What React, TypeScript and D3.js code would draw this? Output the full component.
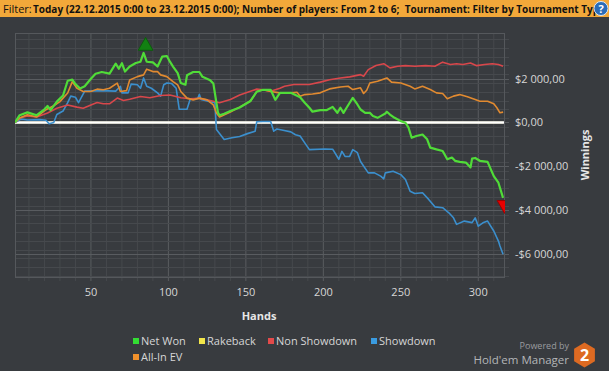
import * as React from 'react';
import {useEffect, useRef} from 'react';
import * as d3 from 'd3';

// [hand, winnings]
const netWon = [[1,0],[4,330],[9,460],[15,330],[20,600],[22,750],[24,560],[28,950],[32,1230],[35,1900],[38,1950],[40,1750],[43,1550],[46,1650],[50,1990],[53,2220],[57,2300],[62,2230],[66,2680],[68,2450],[70,2700],[72,2320],[75,2550],[79,2710],[82,2770],[84,3170],[86,2770],[90,2740],[93,2550],[96,3000],[99,3030],[101,2770],[103,2550],[106,2250],[108,1800],[111,1720],[112,2150],[116,2300],[120,2300],[122,2080],[127,1920],[129,1780],[131,900],[132,450],[133,330],[136,400],[140,520],[146,680],[153,980],[157,1400],[161,1490],[166,1490],[169,1030],[172,1350],[179,1350],[185,1150],[188,900],[191,670],[193,490],[198,560],[202,560],[206,710],[209,440],[211,670],[213,440],[215,670],[217,900],[219,1120],[222,820],[224,590],[227,440],[230,440],[232,290],[235,210],[237,290],[240,410],[241,490],[243,360],[246,210],[250,60],[253,-15],[255,-240],[257,-700],[260,-620],[264,-550],[267,-770],[269,-1150],[273,-1230],[277,-1300],[280,-1680],[283,-1600],[285,-1750],[288,-1800],[292,-1830],[295,-2050],[296,-1650],[298,-1620],[301,-1750],[306,-1800],[310,-2450],[313,-2750],[316,-3440]];
const rakeback = [[1,0],[316,0]];
const nonShowdown = [[1,0],[4,200],[9,300],[15,250],[22,430],[28,650],[35,800],[41,700],[45,650],[50,800],[54,910],[58,850],[62,850],[67,1110],[71,1000],[75,1060],[82,1180],[88,1130],[95,1230],[101,1250],[108,1130],[114,1080],[120,1100],[127,1000],[133,900],[140,1050],[146,1250],[153,1420],[157,1520],[161,1490],[166,1420],[172,1560],[175,1650],[181,1730],[185,1730],[191,1730],[198,1840],[204,1950],[211,2030],[217,2080],[224,2180],[226,2110],[229,2410],[234,2600],[239,2680],[243,2490],[248,2560],[253,2590],[259,2560],[266,2590],[272,2560],[277,2750],[282,2640],[286,2680],[290,2640],[295,2710],[299,2590],[304,2640],[309,2680],[313,2640],[316,2560]];
const showdown = [[1,0],[5,150],[9,110],[17,130],[21,100],[23,-60],[26,0],[28,360],[32,520],[35,900],[37,1200],[40,1150],[42,900],[46,1430],[56,1450],[66,1430],[69,1650],[70,1350],[74,1350],[76,1750],[80,1720],[82,1560],[84,2030],[86,1650],[89,1560],[93,1350],[95,1200],[97,1720],[99,1800],[102,1780],[105,1560],[107,600],[112,600],[114,1050],[119,1100],[120,1280],[121,1050],[127,950],[130,900],[131,-320],[136,-780],[141,-700],[146,-640],[151,-510],[156,-400],[157,30],[161,40],[166,40],[168,-400],[170,-300],[174,-360],[179,-430],[182,-560],[185,-620],[188,-930],[191,-1240],[201,-1210],[206,-1220],[210,-1680],[212,-1320],[214,-1550],[217,-1550],[219,-1240],[222,-1380],[224,-1780],[229,-2300],[233,-2300],[237,-2450],[239,-2570],[240,-2300],[245,-2230],[250,-2380],[253,-2600],[256,-3140],[259,-3240],[264,-3210],[268,-3510],[272,-3850],[277,-3890],[281,-4120],[284,-4350],[286,-4650],[291,-4500],[296,-4570],[298,-4350],[300,-4730],[303,-4580],[306,-4500],[310,-4950],[313,-5410],[314,-5640],[316,-6010]];
const allInEV = [[1,0],[4,200],[9,350],[15,250],[21,580],[26,760],[30,950],[35,1340],[38,1860],[41,1560],[45,1410],[50,1410],[54,1520],[58,1490],[62,1560],[67,1790],[69,1410],[73,1450],[75,1940],[80,2090],[84,2170],[86,2430],[90,2320],[93,2320],[95,2170],[99,2090],[103,1860],[106,1710],[108,1410],[112,1110],[116,1030],[120,1110],[125,1030],[129,800],[131,430],[133,250],[140,480],[146,700],[153,980],[157,1410],[161,1490],[166,1410],[172,1350],[179,1350],[183,1380],[185,1200],[188,1270],[193,1300],[198,1350],[204,1530],[211,1620],[216,1650],[219,1500],[224,1580],[226,1320],[228,1470],[230,1800],[235,1880],[241,2030],[244,1840],[250,1800],[256,1650],[259,1530],[264,1650],[269,1500],[273,1350],[277,1320],[280,1080],[284,1200],[288,1270],[293,1170],[298,1050],[301,970],[306,970],[310,850],[312,670],[314,440],[316,470]];

const seriesNames = ['Net Won', 'Rakeback', 'Non Showdown', 'Showdown', 'All-In EV'];
const seriesColors = ['#50dc38', '#eee24a', '#d8474b', '#3b8fcd', '#e18a30'];
const legendColors = ['#33dd33', '#f2e64a', '#e34a4a', '#3a9be0', '#f0912c'];

const xTicks = [50, 100, 150, 200, 250, 300];
const yTicks = [-6000, -4000, -2000, 0, 2000];

const filterText = 'Today (22.12.2015 0:00 to 23.12.2015 0:00); Number of players: From 2 to 6;\u00a0 Tournament: Filter by Tournament Type';

const fmtMoney = (v) => {
    const s = d3.format(',')(Math.abs(v)).replace(/,/g, ' ');
    return (v < 0 ? '-' : '') + '$' + s + ',00';
};

const App = () => {
    const chartRef = useRef();

    useEffect(() => {
        document.body.style.margin = '0';
        const svg = d3.select(chartRef.current);
        svg.selectAll('*').remove();

        const font = "'Open Sans', sans-serif";
        const left = 15, right = 504, top = 33, bottom = 277;

        const xScale = d3.scaleLinear().domain([1, 316.6]).range([left, right]);
        const yScale = d3.scaleLinear().domain([-7050, 4080]).range([bottom, top]);

        svg.append('rect').attr('width', 609).attr('height', 371).attr('fill', '#383b3f');

        // header bar
        svg.append('rect').attr('width', 609).attr('height', 17).attr('fill', '#f2a83a');
        svg.append('text').attr('x', 3).attr('y', 12.5)
            .style('font-family', font).style('font-size', '11px').attr('fill', '#111')
            .text('Filter:');
        svg.append('text').attr('x', 33).attr('y', 12.5)
            .style('font-family', font).style('font-size', '11px').style('font-weight', 'bold').attr('fill', '#111')
            .attr('textLength', 572).attr('lengthAdjust', 'spacingAndGlyphs')
            .text(filterText);
        svg.append('circle').attr('cx', 601).attr('cy', 8.5).attr('r', 7)
            .attr('fill', '#2a6cb8').attr('stroke', '#dfe8f2').attr('stroke-width', 1);
        svg.append('text').attr('x', 601).attr('y', 12.5).attr('text-anchor', 'middle')
            .style('font-family', font).style('font-size', '11px').style('font-weight', 'bold').attr('fill', '#fff')
            .text('?');

        // grid
        const grid = svg.append('g');
        const minorX = d3.range(10, 317, 10);
        const minorY = d3.range(-7000, 4081, 400);
        grid.selectAll('.mx').data(minorX).enter().append('line')
            .attr('x1', d => xScale(d)).attr('x2', d => xScale(d))
            .attr('y1', top).attr('y2', bottom + 4)
            .attr('stroke', d => d % 50 === 0 ? '#595c60' : '#46494d').attr('stroke-width', 1);
        grid.selectAll('.my').data(minorY).enter().append('line')
            .attr('x1', left).attr('x2', right + 5)
            .attr('y1', d => Math.round(yScale(d)) + 0.5).attr('y2', d => Math.round(yScale(d)) + 0.5)
            .attr('stroke', '#46494d').attr('stroke-width', 1);
        grid.selectAll('.My').data(yTicks).enter().append('line')
            .attr('x1', left).attr('x2', right + 5)
            .attr('y1', d => Math.round(yScale(d)) + 0.5).attr('y2', d => Math.round(yScale(d)) + 0.5)
            .attr('stroke', '#595c60').attr('stroke-width', 1);
        svg.append('rect').attr('x', left + 0.5).attr('y', top + 0.5)
            .attr('width', right - left).attr('height', bottom - top)
            .attr('fill', 'none').attr('stroke', '#55585c');

        // axes labels
        svg.selectAll('.xt').data(xTicks).enter().append('text')
            .attr('x', d => xScale(d)).attr('y', 296).attr('text-anchor', 'middle')
            .style('font-family', font).style('font-size', '11px').attr('fill', '#d6d6d6')
            .text(d => d);
        svg.selectAll('.yt').data(yTicks).enter().append('text')
            .attr('x', 515).attr('y', d => yScale(d) + 4)
            .style('font-family', font).style('font-size', '11px').attr('fill', '#d6d6d6')
            .text(d => fmtMoney(d));
        svg.append('text').attr('x', 259).attr('y', 320).attr('text-anchor', 'middle')
            .style('font-family', font).style('font-size', '11px').style('font-weight', 'bold').attr('fill', '#e6e6e6')
            .text('Hands');
        svg.append('text').attr('transform', 'translate(589,155) rotate(-90)').attr('text-anchor', 'middle')
            .style('font-family', font).style('font-size', '11px').style('font-weight', 'bold').attr('fill', '#e6e6e6')
            .text('Winnings');

        // series
        svg.append('clipPath').attr('id', 'plotclip').append('rect')
            .attr('x', left).attr('y', top).attr('width', right - left + 1).attr('height', bottom - top);
        const plot = svg.append('g').attr('clip-path', 'url(#plotclip)');
        const line = d3.line().x(d => xScale(d[0])).y(d => yScale(d[1]));

        plot.append('path').datum(rakeback).attr('d', line).attr('fill', 'none')
            .attr('stroke', seriesColors[1]).attr('stroke-width', 1.5);
        plot.append('line').attr('x1', left).attr('x2', right)
            .attr('y1', yScale(0)).attr('y2', yScale(0))
            .attr('stroke', '#ffffff').attr('stroke-width', 2.5);

        const drawn = [[showdown, 3, 1.6], [nonShowdown, 2, 1.6], [allInEV, 4, 1.6], [netWon, 0, 2.2]];
        drawn.forEach(([data, ci, w]) => {
            plot.append('path').datum(data).attr('d', line).attr('fill', 'none')
                .attr('stroke', seriesColors[ci]).attr('stroke-width', w)
                .attr('stroke-linejoin', 'round');
        });

        const tri = d3.symbol(d3.symbolTriangle, 95);
        const peak = netWon.reduce((a, b) => b[1] > a[1] ? b : a);
        const last = netWon[netWon.length - 1];
        plot.append('path').attr('d', tri())
            .attr('transform', `translate(${xScale(peak[0]) + 2},${yScale(peak[1]) - 7})`)
            .attr('fill', '#128012').attr('stroke', '#0b5e0b');
        plot.append('path').attr('d', tri())
            .attr('transform', `translate(${xScale(last[0]) + 1.5},${yScale(last[1]) + 7}) rotate(180)`)
            .attr('fill', '#e80000').attr('stroke', '#9a0000');

        // legend
        const legendPos = [[133, 341], [199, 341], [268, 341], [371, 341], [133, 357]];
        seriesNames.forEach((name, i) => {
            const [lx, ly] = legendPos[i];
            svg.append('rect').attr('x', lx).attr('y', ly - 3).attr('width', 6).attr('height', 6)
                .attr('fill', legendColors[i]);
            svg.append('text').attr('x', lx + 8).attr('y', ly + 4)
                .style('font-family', font).style('font-size', '11px').attr('fill', '#d6d6d6')
                .text(name);
        });

        // logo
        svg.append('text').attr('x', 569).attr('y', 349).attr('text-anchor', 'end')
            .style('font-family', font).style('font-size', '9px').attr('fill', '#9a9c9f')
            .text('Powered by');
        svg.append('text').attr('x', 569).attr('y', 364).attr('text-anchor', 'end')
            .style('font-family', font).style('font-size', '11.5px').attr('fill', '#b4b6b8')
            .text("Hold'em Manager");
        const hex = d3.range(6).map(k => {
            const a = Math.PI / 3 * k + Math.PI / 6;
            return [584.5 + 12 * Math.cos(a), 355 + 12.5 * Math.sin(a)];
        });
        svg.append('path').attr('d', 'M' + hex.join('L') + 'Z').attr('fill', '#dd6a22');
        svg.append('text').attr('x', 584.5).attr('y', 361).attr('text-anchor', 'middle')
            .style('font-family', font).style('font-size', '16px').style('font-weight', 'bold').attr('fill', '#fff')
            .text('2');
    }, []);

    return (
        <svg ref={chartRef} width={609} height={371} style={{display: 'block'}}></svg>
    );
};

export default App;
